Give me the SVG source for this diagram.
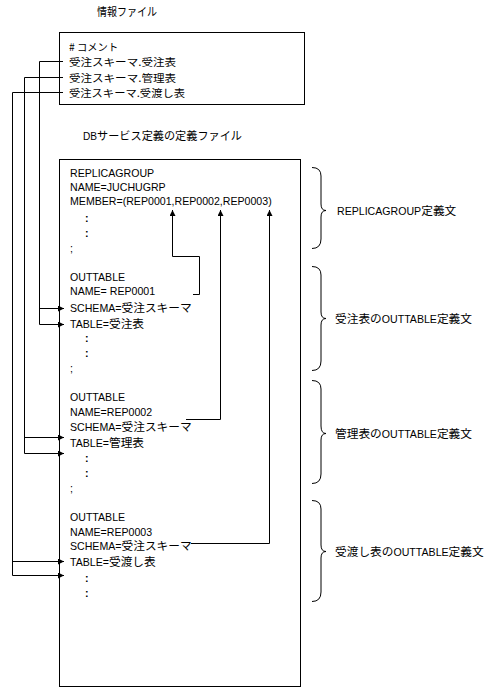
<svg xmlns="http://www.w3.org/2000/svg" width="489" height="690" viewBox="0 0 489 690">
<style>
text{font-family:"Liberation Sans","Noto Sans CJK JP",sans-serif;font-size:10.6px;fill:#000}
.j{font-family:"Noto Sans CJK JP",sans-serif;font-size:11.7px}
.k{font-family:"Noto Sans CJK JP",sans-serif;font-size:10.3px}
.d{font-weight:bold}
.box{fill:#fff;stroke:#000;stroke-width:1}
.ln{fill:none;stroke:#000;stroke-width:1}
.br{fill:none;stroke:#000;stroke-width:1}
</style>
<defs>
<marker id="ah" markerUnits="userSpaceOnUse" markerWidth="7" markerHeight="7" refX="6" refY="3" orient="auto">
<path d="M0,0 L6,3 L0,6 z" fill="#000"/>
</marker>
</defs>
<rect width="489" height="690" fill="#fff"/>

<g id="info-file">
<text class="j" x="97" y="16" textLength="60" lengthAdjust="spacingAndGlyphs">情報ファイル</text>
<rect class="box" x="59.5" y="32.5" width="245" height="72"/>
<text class="k" x="69" y="51"># コメント</text>
<text class="k" x="69" y="66" textLength="107" lengthAdjust="spacingAndGlyphs">受注スキーマ.受注表</text>
<text class="k" x="69" y="81.5" textLength="107" lengthAdjust="spacingAndGlyphs">受注スキーマ.管理表</text>
<text class="k" x="69" y="96.5" textLength="116" lengthAdjust="spacingAndGlyphs">受注スキーマ.受渡し表</text>
</g>

<g id="db-file">
<text x="83" y="140" textLength="159" lengthAdjust="spacingAndGlyphs">DB<tspan class="j">サービス定義の定義ファイル</tspan></text>
<rect class="box" x="59.5" y="159.5" width="241" height="527"/>
</g>

<g id="replicagroup">
<text x="70" y="177">REPLICAGROUP</text>
<text x="70" y="191">NAME=JUCHUGRP</text>
<text x="70" y="204.5">MEMBER=(REP0001,REP0002,REP0003)</text>
<text class="d" x="85" y="222">:</text>
<text class="d" x="85" y="237">:</text>
<text x="70" y="252">;</text>
</g>

<g id="outtable1">
<text x="70" y="281">OUTTABLE</text>
<text x="70" y="295">NAME= REP0001</text>
<text x="70" y="312">SCHEMA=<tspan class="j">受注スキーマ</tspan></text>
<text x="70" y="328">TABLE=<tspan class="j">受注表</tspan></text>
<text class="d" x="85" y="342">:</text>
<text class="d" x="85" y="357">:</text>
<text x="70" y="372">;</text>
</g>

<g id="outtable2">
<text x="70" y="401">OUTTABLE</text>
<text x="70" y="416">NAME=REP0002</text>
<text x="70" y="431">SCHEMA=<tspan class="j">受注スキーマ</tspan></text>
<text x="70" y="447">TABLE=<tspan class="j">管理表</tspan></text>
<text class="d" x="85" y="462">:</text>
<text class="d" x="85" y="477">:</text>
<text x="70" y="492">;</text>
</g>

<g id="outtable3">
<text x="70" y="521">OUTTABLE</text>
<text x="70" y="536">NAME=REP0003</text>
<text x="70" y="549.5">SCHEMA=<tspan class="j">受注スキーマ</tspan></text>
<text x="70" y="566">TABLE=<tspan class="j">受渡し表</tspan></text>
<text class="d" x="85" y="582">:</text>
<text class="d" x="85" y="597">:</text>
</g>

<g id="braces">
<path class="br" d="M312,167.5 Q321,167.5 321,176 V204 Q321,210.5 326,210.5 Q321,210.5 321,217 V239 Q321,248.5 312,248.5"/>
<text x="337" y="215">REPLICAGROUP<tspan class="j">定義文</tspan></text>
<path class="br" d="M312,266.5 Q321,266.5 321,275 V312 Q321,318.5 326,318.5 Q321,318.5 321,325 V361 Q321,370.5 312,370.5"/>
<text x="335" y="323"><tspan class="j">受注表の</tspan>OUTTABLE<tspan class="j">定義文</tspan></text>
<path class="br" d="M312,380.5 Q321,380.5 321,389 V426 Q321,433.5 326,433.5 Q321,433.5 321,440 V474 Q321,483.5 312,483.5"/>
<text x="335" y="438"><tspan class="j">管理表の</tspan>OUTTABLE<tspan class="j">定義文</tspan></text>
<path class="br" d="M312,500.5 Q321,500.5 321,509 V545 Q321,551.5 326,551.5 Q321,551.5 321,558 V592 Q321,601.5 312,601.5"/>
<text x="335" y="556"><tspan class="j">受渡し表の</tspan>OUTTABLE<tspan class="j">定義文</tspan></text>
</g>

<g id="connectors">
<path class="ln" d="M63,61.5 H39.5 V324.5 H64" marker-end="url(#ah)"/>
<path class="ln" d="M39.5,308.5 H64" marker-end="url(#ah)"/>
<path class="ln" d="M63,77.5 H24.5 V453.5 H64" marker-end="url(#ah)"/>
<path class="ln" d="M24.5,437.5 H64" marker-end="url(#ah)"/>
<path class="ln" d="M63,92.5 H12.5 V575.5 H64" marker-end="url(#ah)"/>
<path class="ln" d="M12.5,561.5 H64" marker-end="url(#ah)"/>
<path class="ln" d="M193,294.5 H199.5 V256.5 H172.5 V210" marker-end="url(#ah)"/>
<path class="ln" d="M186,419.5 H220.5 V210" marker-end="url(#ah)"/>
<path class="ln" d="M191,543.5 H269.5 V210" marker-end="url(#ah)"/>
</g>
</svg>
